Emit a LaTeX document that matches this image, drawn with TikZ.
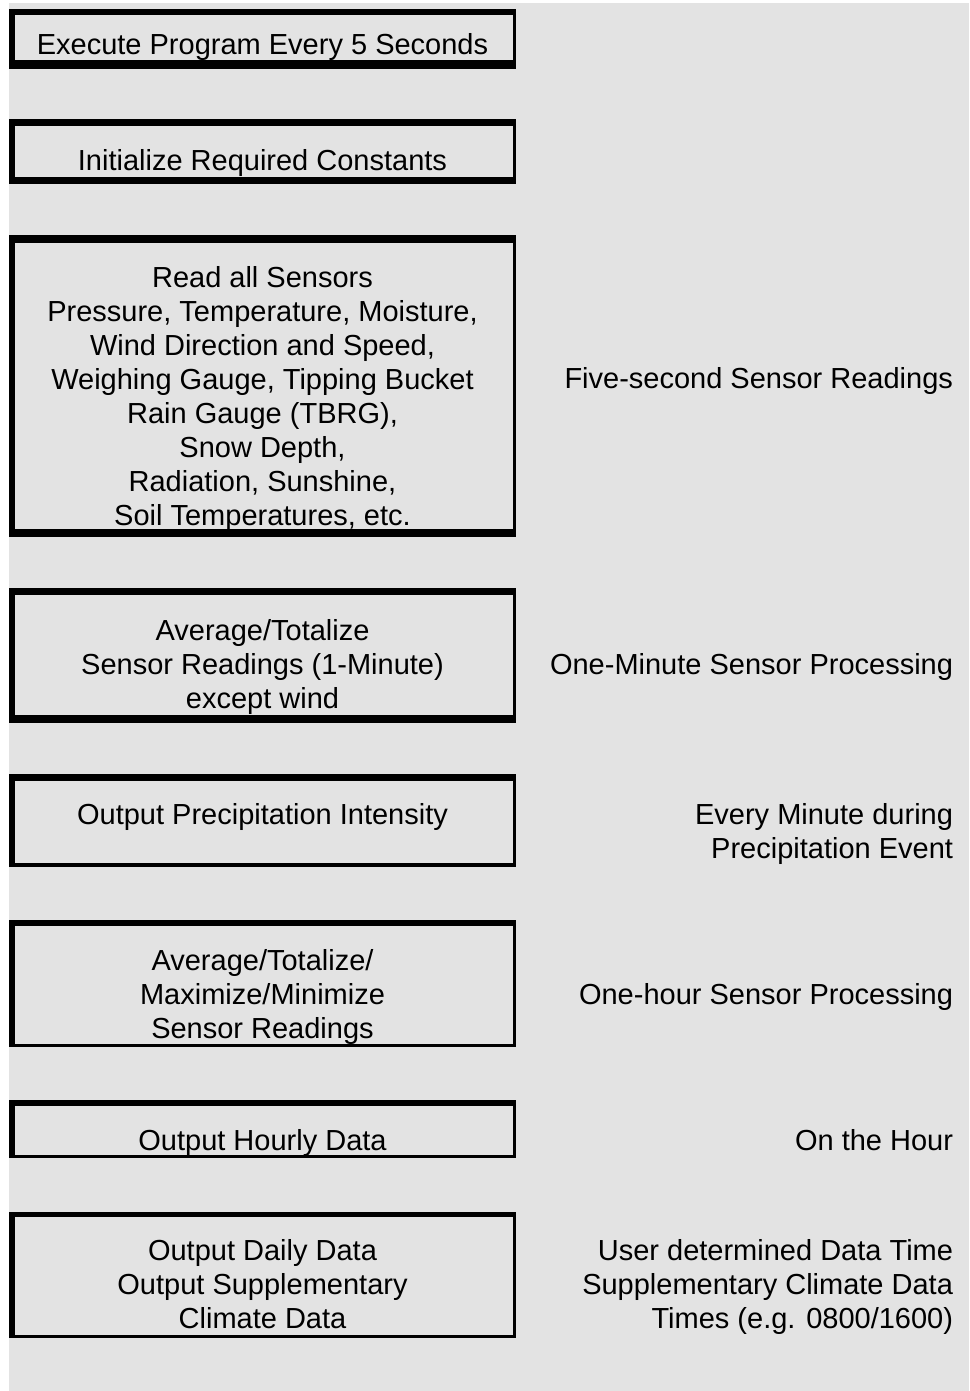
\documentclass[tikz,border=0pt]{standalone}
\usepackage{fontspec}
\setmainfont{Liberation Sans}
\definecolor{panel}{gray}{0.89}

\begin{document}
\begin{tikzpicture}[x=1pt, y=-1pt]
    \tikzstyle{every node} = [font=\fontsize{29}{34}\selectfont, inner sep=0pt, outer sep=0pt]
    \tikzstyle{stepbox} = [draw, line width=3.4pt, minimum width=503.8pt]
    \tikzstyle{steptext} = [align=center]
    \tikzstyle{timing} = [align=right, anchor=east]

    \useasboundingbox (0, 0) rectangle (969, 1391);
    \fill [white] (0, 0) rectangle (969, 1391);
    \fill [panel] (9, 3) rectangle (969, 1391);

    % boxes: number / top / height / top band / bottom band
    \foreach \n/\y/\h/\t/\b in {1/9/60/6/9, 2/119/65/7/7, 3/235/302/8/8, 4/588/135/7/8,
                                 5/774/93/7/4, 6/920/127/6/3, 7/1100/58/6/2, 8/1212/126/5/3} {
      \node [stepbox, minimum height=\h-3.4, anchor=north west] (b\n) at (10.7, \y+1.7) {};
      \fill ([shift={(-1.7, -1.7)}] b\n.north west) rectangle ++(507.2, \t);
      \fill ([shift={(-1.7, 1.7)}] b\n.south west) rectangle ++(507.2, -\b);
      \fill ([shift={(-1.7, -1.7)}] b\n.north west) rectangle ([shift={(4.3, 1.7)}] b\n.south west);
    }

    \node [steptext] (t1) at (262.5, 47) {Execute Program Every 5 Seconds};
    \node [steptext] (t2) at (262.5, 163) {Initialize Required Constants};
    \node [steptext] (t3) at (262.5, 399) {Read all Sensors\\Pressure, Temperature, Moisture,\\Wind Direction and Speed,\\Weighing Gauge, Tipping Bucket\\Rain Gauge (TBRG),\\Snow Depth,\\Radiation, Sunshine,\\Soil Temperatures, etc.};
    \node [steptext] (t4) at (262.5, 667) {Average/Totalize\\Sensor Readings (1-Minute)\\except wind};
    \node [steptext] (t5) at (262.5, 817) {Output Precipitation Intensity};
    \node [steptext] (t6) at (262.5, 997) {Average/Totalize/\\Maximize/Minimize\\Sensor Readings};
    \node [steptext] (t7) at (262.5, 1143) {Output Hourly Data};
    \node [steptext] (t8) at (262.5, 1284) {Output Daily Data\\Output Supplementary\\Climate Data};

    \node [timing] (r3) at (953, 381) {Five-second Sensor Readings};
    \node [timing] (r4) at (953, 667) {One-Minute Sensor Processing};
    \node [timing] (r5) at (953, 834) {Every Minute during\\Precipitation Event};
    \node [timing] (r6) at (953, 997) {One-hour Sensor Processing};
    \node [timing] (r7) at (953, 1140) {On the Hour};
    \node [timing] (r8) at (953, 1287) {User determined Data Time\\Supplementary Climate Data\\Times (e.g. 0800/1600)};
\end{tikzpicture}
\end{document}
